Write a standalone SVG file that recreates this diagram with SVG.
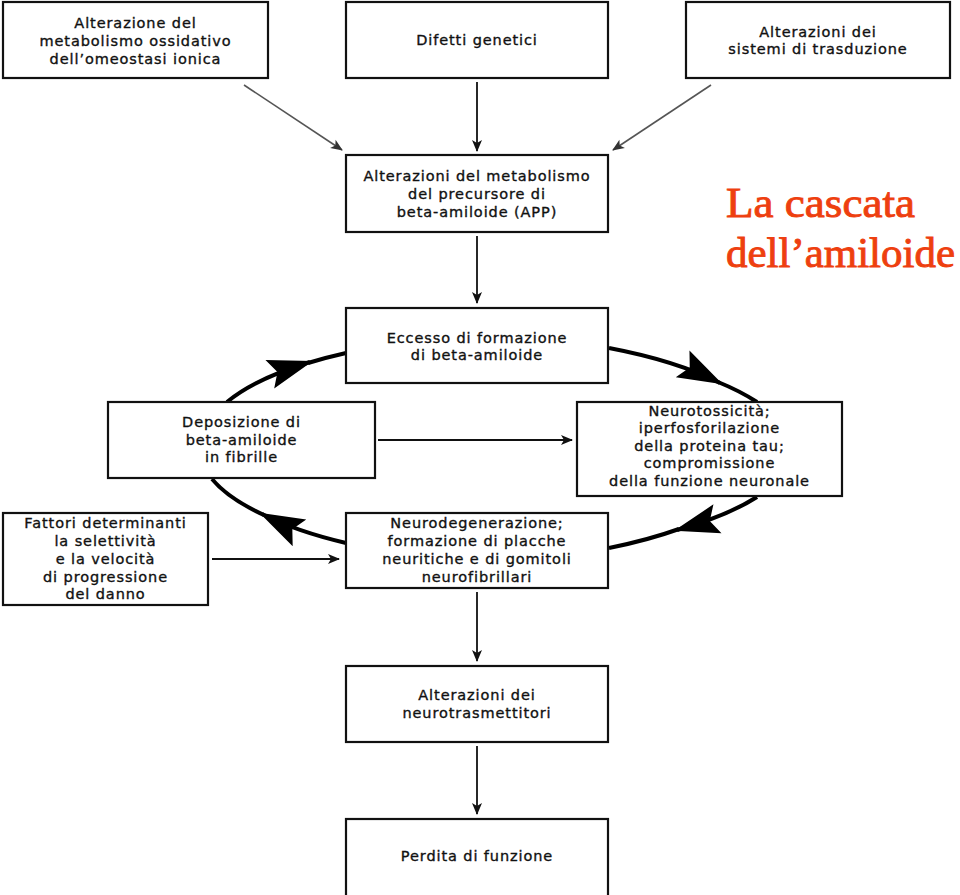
<svg xmlns="http://www.w3.org/2000/svg" width="960" height="895" viewBox="0 0 960 895">
<style>
.box{fill:#fff;stroke:#111;stroke-width:2.2}
.t{font-family:"DejaVu Sans",sans-serif;font-size:14.5px;letter-spacing:0.9px;fill:#111;stroke:#111;stroke-width:0.35;text-anchor:middle}
.thin{fill:none;stroke:#111;stroke-width:1.8}
.diag{fill:none;stroke:#555;stroke-width:1.6}
.arc{fill:none;stroke:#000;stroke-width:4}
.title{font-family:"Liberation Serif","Times New Roman",serif;font-size:42px;fill:#ee3f0f;stroke:#ee3f0f;stroke-width:0.9}
</style>
<defs>
<marker id="sm" markerUnits="userSpaceOnUse" viewBox="-13 -6 15 12" refX="0" refY="0" markerWidth="15" markerHeight="12" orient="auto">
<path d="M1,0 L-11,-5 L-8,0 L-11,5 Z" fill="#111"/>
</marker>
<marker id="smg" markerUnits="userSpaceOnUse" viewBox="-13 -6 15 12" refX="0" refY="0" markerWidth="15" markerHeight="12" orient="auto">
<path d="M1,0 L-11,-5 L-8,0 L-11,5 Z" fill="#333"/>
</marker>
<marker id="big" markerUnits="userSpaceOnUse" viewBox="-46 -17 50 34" refX="0" refY="0" markerWidth="50" markerHeight="34" orient="auto">
<path d="M3,0 L-42,-15 L-34,0 L-42,15 Z" fill="#000"/>
</marker>
</defs>
<rect width="960" height="895" fill="#fff"/>

<g id="connectors">
<path class="diag" d="M244,85 L342,150" marker-end="url(#smg)"/>
<path class="diag" d="M711,85 L613,150" marker-end="url(#smg)"/>
<path class="thin" d="M477,82 L477,151" marker-end="url(#sm)"/>
<path class="thin" d="M477,236 L477,303" marker-end="url(#sm)"/>
<path class="thin" d="M378,440 L572,440" marker-end="url(#sm)"/>
<path class="thin" d="M212,559 L339,559" marker-end="url(#sm)"/>
<path class="thin" d="M477,592 L477,661" marker-end="url(#sm)"/>
<path class="thin" d="M477,746 L477,814" marker-end="url(#sm)"/>
<path class="arc" d="M609,348 A 320 110 0 0 1 720,383" marker-end="url(#big)"/>
<path class="arc" d="M718,382 A 320 110 0 0 1 757,402"/>
<path class="arc" d="M757,497 A 320 110 0 0 1 677,530" marker-end="url(#big)"/>
<path class="arc" d="M679,529 A 320 110 0 0 1 609,548"/>
<path class="arc" d="M346,543 A 320 110 0 0 1 262,514" marker-end="url(#big)"/>
<path class="arc" d="M264,515 A 320 110 0 0 1 212,479"/>
<path class="arc" d="M227,402 A 320 110 0 0 1 310,362" marker-end="url(#big)"/>
<path class="arc" d="M308,363 A 320 110 0 0 1 346,353"/>
</g>

<g id="n1"><rect class="box" x="3" y="2" width="265" height="76"/>
<text class="t" x="135.5" y="28">Alterazione del</text>
<text class="t" x="135.5" y="46">metabolismo ossidativo</text>
<text class="t" x="135.5" y="64">dell’omeostasi ionica</text></g>

<g id="n2"><rect class="box" x="346" y="2" width="262" height="76"/>
<text class="t" x="477" y="45">Difetti genetici</text></g>

<g id="n3"><rect class="box" x="686" y="2" width="264" height="76"/>
<text class="t" x="818" y="37">Alterazioni dei</text>
<text class="t" x="818" y="54">sistemi di trasduzione</text></g>

<g id="n4"><rect class="box" x="346" y="155" width="262" height="77"/>
<text class="t" x="477" y="181">Alterazioni del metabolismo</text>
<text class="t" x="477" y="199">del precursore di</text>
<text class="t" x="477" y="217">beta-amiloide (APP)</text></g>

<g id="n5"><rect class="box" x="346" y="308" width="262" height="75"/>
<text class="t" x="477" y="343">Eccesso di formazione</text>
<text class="t" x="477" y="360">di beta-amiloide</text></g>

<g id="n6"><rect class="box" x="108" y="402" width="267" height="76"/>
<text class="t" x="241.5" y="427">Deposizione di</text>
<text class="t" x="241.5" y="445">beta-amiloide</text>
<text class="t" x="241.5" y="462">in fibrille</text></g>

<g id="n7"><rect class="box" x="577" y="402" width="265" height="94"/>
<text class="t" x="709.5" y="416">Neurotossicità;</text>
<text class="t" x="709.5" y="433">iperfosforilazione</text>
<text class="t" x="709.5" y="451">della proteina tau;</text>
<text class="t" x="709.5" y="468">compromissione</text>
<text class="t" x="709.5" y="486">della funzione neuronale</text></g>

<g id="n8"><rect class="box" x="3" y="513" width="205" height="92"/>
<text class="t" x="105.5" y="528">Fattori determinanti</text>
<text class="t" x="105.5" y="546">la selettività</text>
<text class="t" x="105.5" y="564">e la velocità</text>
<text class="t" x="105.5" y="582">di progressione</text>
<text class="t" x="105.5" y="599">del danno</text></g>

<g id="n9"><rect class="box" x="346" y="513" width="262" height="75"/>
<text class="t" x="477" y="528">Neurodegenerazione;</text>
<text class="t" x="477" y="546">formazione di placche</text>
<text class="t" x="477" y="564">neuritiche e di gomitoli</text>
<text class="t" x="477" y="582">neurofibrillari</text></g>

<g id="n10"><rect class="box" x="346" y="666" width="262" height="76"/>
<text class="t" x="477" y="700">Alterazioni dei</text>
<text class="t" x="477" y="718">neurotrasmettitori</text></g>

<g id="n11"><rect class="box" x="346" y="819" width="262" height="90"/>
<text class="t" x="477" y="861">Perdita di funzione</text></g>

<g id="title">
<text class="title" x="726" y="217" textLength="189" lengthAdjust="spacingAndGlyphs">La cascata</text>
<text class="title" x="726" y="267" textLength="229" lengthAdjust="spacingAndGlyphs">dell’amiloide</text>
</g>
</svg>
